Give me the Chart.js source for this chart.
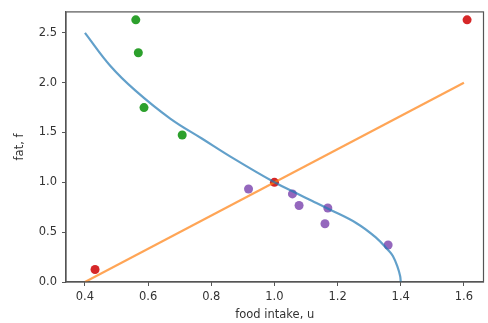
<!DOCTYPE html>
<html>
<head>
<meta charset="utf-8">
<script src="https://cdn.jsdelivr.net/npm/chart.js@4/dist/chart.umd.min.js"></script>
<style>
    html, body { margin: 0; padding: 0; background: #fff; }
    #wrap { width: 488px; height: 323px; }
</style>
</head>
<body>
<div id="wrap"><canvas id="chart"></canvas></div>
<script>
    // fat vs food intake curve
    const curveU = [0.40, 0.48, 0.56, 0.67, 0.77, 0.87, 1.00, 1.07, 1.12, 1.17, 1.26, 1.32, 1.36, 1.375, 1.39, 1.398, 1.40];
    const curveF = [2.50, 2.17, 1.92, 1.64, 1.44, 1.24, 1.00, 0.89, 0.813, 0.735, 0.59, 0.45, 0.32, 0.26, 0.15, 0.06, 0.00];

    // straight line
    const lineU = [0.40, 1.60];
    const lineF = [0.00, 2.00];

    // observations
    const greenU = [0.561, 0.569, 0.587, 0.708];
    const greenF = [2.63, 2.30, 1.75, 1.475];
    const redU = [0.432, 1.00, 1.61];
    const redF = [0.125, 1.00, 2.63];
    const purpleU = [0.918, 1.057, 1.078, 1.169, 1.160, 1.360];
    const purpleF = [0.933, 0.884, 0.768, 0.742, 0.584, 0.371];

    const xTicks = [0.4, 0.6, 0.8, 1.0, 1.2, 1.4, 1.6];
    const yTicks = [0.0, 0.5, 1.0, 1.5, 2.0, 2.5];

    function toPoints(xs, ys) {
        return xs.map(function (x, i) {
            return { x: x, y: ys[i] };
        });
    }

    function dots(xs, ys, color) {
        return {
            data: toPoints(xs, ys),
            showLine: false,
            pointRadius: 4.5,
            pointBackgroundColor: color,
            pointBorderWidth: 0,
            borderColor: color
        };
    }

    const textColor = "#333";
    const axisColor = "#555";
    const font = { family: "DejaVu Sans", size: 11.5 };

    // draws the top and right spines
    const frame = {
        id: "frame",
        afterDraw: function (chart) {
            const a = chart.chartArea;
            const ctx = chart.ctx;
            ctx.save();
            ctx.strokeStyle = axisColor;
            ctx.lineWidth = 1.2;
            ctx.strokeRect(a.left, a.top, a.right - a.left, a.bottom - a.top);
            ctx.restore();
        }
    };

    new Chart(document.getElementById("chart"), {
        type: "scatter",
        data: {
            datasets: [
                {
                    data: toPoints(curveU, curveF),
                    showLine: true,
                    borderColor: "rgba(31, 119, 180, 0.7)",
                    borderWidth: 2.2,
                    pointRadius: 0,
                    tension: 0.4
                },
                {
                    data: toPoints(lineU, lineF),
                    showLine: true,
                    borderColor: "rgba(255, 127, 14, 0.7)",
                    borderWidth: 2.2,
                    pointRadius: 0
                },
                dots(greenU, greenF, "#2ca02c"),
                dots(purpleU, purpleF, "#9467bd"),
                dots(redU, redF, "#d62728")
            ]
        },
        options: {
            responsive: true,
            maintainAspectRatio: false,
            animation: false,
            layout: { padding: { left: 0, top: 7, right: 2, bottom: 0 } },
            plugins: {
                legend: { display: false },
                tooltip: { enabled: false }
            },
            scales: {
                x: {
                    type: "linear",
                    min: 0.34,
                    max: 1.662,
                    afterBuildTicks: function (scale) {
                        scale.ticks = xTicks.map(function (v) { return { value: v }; });
                    },
                    afterFit: function (scale) { scale.height = 41; },
                    grid: { drawOnChartArea: false, drawTicks: true, tickLength: 4, tickColor: axisColor },
                    border: { display: true, color: axisColor, width: 1.2 },
                    ticks: {
                        color: textColor,
                        font: font,
                        padding: 4,
                        maxRotation: 0,
                        callback: function (v) { return v.toFixed(1); }
                    },
                    title: {
                        display: true,
                        text: "food intake, u",
                        color: textColor,
                        font: font,
                        padding: { top: 0, bottom: 1 }
                    }
                },
                y: {
                    type: "linear",
                    min: 0,
                    max: 2.71,
                    afterBuildTicks: function (scale) {
                        scale.ticks = yTicks.map(function (v) { return { value: v }; });
                    },
                    afterFit: function (scale) { scale.width = 66; },
                    grid: { drawOnChartArea: false, drawTicks: true, tickLength: 4, tickColor: axisColor },
                    border: { display: true, color: axisColor, width: 1.2 },
                    ticks: {
                        color: textColor,
                        font: font,
                        padding: 5,
                        callback: function (v) { return v.toFixed(1); }
                    },
                    title: {
                        display: true,
                        text: "fat, f",
                        color: textColor,
                        font: font,
                        padding: { top: 13, bottom: 0 }
                    }
                }
            }
        },
        plugins: [frame]
    });
</script>
</body>
</html>
